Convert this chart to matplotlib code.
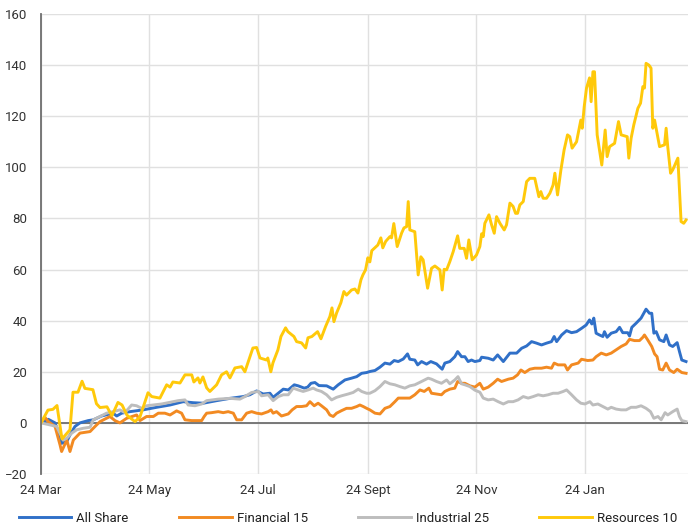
import numpy as np
import pandas as pd
import matplotlib
matplotlib.use("Agg")
import matplotlib.pyplot as plt

plt.rcParams['font.family'] = ['Roboto', 'DejaVu Sans']

START = "2020-03-24"
END = "2021-03-23"

# ---- data (day offsets from START, % change) ----
all_share_days = [0, 4.1, 7.9, 10.7, 11.6, 14.5, 16.3, 19.1, 21.9, 26.6, 29.4, 31.3, 34.1, 38.8, 40.5, 42.6,
                  45.4, 50.1, 57.5, 65.1, 72.6, 80, 85.7, 91.3, 98.8, 106.3, 113.8, 117.5, 121.3, 125, 128.8,
                  130.6, 133.5, 136.3, 139.1, 142.5, 144.7, 148.1, 150, 151.9, 154.1, 156.4, 160.7, 164.4,
                  167.2, 171, 174.7, 177.6, 180.4, 183.2, 185, 187.9, 190.7, 193.5, 196.3, 198.7, 201, 203.8,
                  206.2, 207.5, 210.3, 211.9, 214.1, 216.9, 219.3, 222.5, 225.7, 227.2, 230, 232.8, 234.4,
                  236.6, 238.5, 240.3, 242.2, 244.1, 246.9, 247.9, 251.6, 254.4, 256.9, 260.1, 263.8, 267.6,
                  270.4, 273.2, 276, 278.8, 281.6, 284.4, 287.2, 288.7, 290.1, 292.9, 295.7, 298.5, 301.3,
                  304.1, 306.7, 308.6, 309.9, 311, 312.3, 314.2, 316.1, 317, 318.5, 320.8, 323.6, 325.5,
                  327.3, 330.1, 331.1, 332.4, 334.8, 337.6, 339.1, 340.4, 342.3, 343.6, 344.8, 346.1, 348,
                  350.4, 351.7, 353.6, 355.4, 357.9, 359.2, 360.5, 362.9]
all_share_vals = [0, 1.4, 0, -5.4, -8, -7.3, -4.7, -1.4, 0, 0.9, 1.2, 1.8, 2.7, 3.5, 3.8, 2.7,
                  3.8, 4.4, 5.1, 6.1, 7, 8.3, 7.9, 7.7, 8.7, 9.6, 10.3, 11, 12.5, 11.3, 11.6,
                  10, 11.6, 13.2, 12.9, 14.9, 14.5, 13.6, 14, 15.5, 15.8, 14.6, 14.5, 13.2,
                  14.9, 16.8, 17.5, 18.1, 19.4, 19.7, 20.1, 20.5, 21.8, 23.4, 23, 24.4, 24, 25,
                  27, 24.9, 24.6, 22.7, 24, 23, 24, 23.1, 21, 23.4, 24, 25.9, 27.9,
                  25.9, 25.9, 24, 24.6, 24, 24.4, 25.7, 25.3, 24.6, 26.6, 24, 27.3, 27.3,
                  29.2, 30.1, 31.8, 31.2, 30.5, 31.2, 31.8, 33.8, 31.8, 34.4, 36.1, 35.3, 35.7,
                  37, 38.3, 40.3, 38.7, 41, 35.1, 34.4, 33.8, 35.7, 33.5, 35.1, 35.7, 37.4,
                  35.3, 35.3, 34, 37.4, 39, 41, 42.9, 44.5, 42.9, 42.9, 35.1, 35.7, 32.5,
                  31.8, 34.4, 30.5, 29.9, 31.4, 27.9, 24.6, 24]

financial_days = [0, 2.2, 4.1, 7.9, 10.7, 11.6, 14.5, 16.3, 18.2, 21.9, 27.6, 30.4, 33.2, 38.8, 41.6, 44.4,
                  48.2, 53.8, 55.7, 59.4, 63.2, 66, 69.7, 72.6, 76.3, 79.1, 81, 84.8, 90.4, 91.8, 93.2, 96,
                  99.7, 102.5, 105.3, 108.2, 110.1, 112.9, 115.7, 118.5, 121.3, 124.1, 127.8, 129.4, 130.6,
                  132.5, 135.3, 139.1, 141.3, 143.8, 146.6, 149.4, 151.3, 153.7, 155.9, 157.8, 160.7, 162.5,
                  164.4, 166.3, 169.1, 171.9, 174.7, 177.6, 179.4, 181.3, 183.2, 185, 187.9, 190.7, 193.5,
                  196.3, 199.1, 201, 204.7, 207.5, 210.3, 213.2, 215.6, 218.2, 219.7, 222.5, 225.3, 227.2,
                  230, 232.8, 234.4, 236.6, 238.5, 241.3, 244.1, 246.9, 248.8, 251.6, 254.4, 256.9, 259.1,
                  262.9, 265.6, 268.1, 270, 272.2, 275, 277.8, 281.6, 284.4, 287.2, 288.7, 290.9, 294.7,
                  296.2, 298.5, 302.2, 304.1, 307.6, 310.5, 312.3, 315.2, 318, 320.8, 323.6, 326.4, 329.2,
                  331.1, 333.9, 336.7, 338.6, 339.5, 341.3, 343.6, 345.2, 346.6, 348, 349.8, 351.7, 353.6,
                  356, 357.9, 360.5, 362.9]
financial_vals = [0, 2.2, 0.5, -1.4, -8.6, -11.2, -6.7, -11.2, -6.7, -4, -3.4, -1.4, 0.5, 2.5, 0.9, 0,
                  1.8, 3.1, 0.9, 2.5, 2.5, 3.8, 3.8, 3.1, 4.7, 3.8, 1.2, 0.9, 0.9, 2.5, 3.8, 4,
                  4.4, 4, 4.4, 3.8, 1.2, 1.2, 3.8, 4.4, 3.8, 3.5, 4.4, 5.1, 3.8,
                  4.4, 2.7, 3.5, 5.1, 6.4, 6.4, 6.7, 8.3, 6.7, 7.7, 6.7, 5.1, 3.1,
                  2.5, 3.8, 4.8, 5.7, 5.7, 6.4, 7, 6.4, 5.7, 5.1, 3.8, 3.5, 5.7,
                  6.4, 8.3, 9.7, 9.7, 9.7, 11, 12.9, 12.3, 13.6, 11.6, 11.3, 11, 12.3,
                  13.2, 13.6, 16.2, 15.5, 15.5, 14.5, 14, 15.5, 13.2, 14, 15.5, 17.1, 16.2,
                  17.1, 17.5, 18.8, 20.7, 19.7, 21, 21.4, 21.4, 21.8, 21.4, 23.4, 22.7, 22.7,
                  20.7, 22.7, 23.4, 24.9, 24.4, 24.6, 25.9, 27.3, 26.6, 27.3, 28.6, 29.9, 30.9,
                  32.7, 32.2, 32.2, 33.5, 34.4, 32.5, 29.9, 27, 25.9, 21, 20.7, 23.4, 20.7,
                  19.7, 21, 19.7, 19.4]

industrial_days = [0, 5.1, 8.8, 12.5, 14.5, 17.3, 20.1, 23.8, 27.6, 29.4, 33.2, 36.9, 40.7, 44.4, 47.2, 51,
                   53.8, 56.6, 59.4, 67.9, 77.2, 81, 82.8, 86.6, 90.4, 93.2, 99.7, 106.3, 111.9, 114.7, 118.5,
                   122.2, 124.1, 127.8, 130.6, 133.5, 136.3, 139.1, 141.9, 144.7, 147.5, 150.3, 153.1, 155,
                   157.8, 160.7, 163.5, 166.3, 169.1, 172.8, 175.6, 178.5, 180.4, 183.2, 185, 187.9, 190.7,
                   193.5, 196.3, 199.1, 201.9, 204.7, 207.5, 210.3, 214.1, 217.8, 219.7, 222.5, 225.3, 228.2,
                   230, 232.8, 234.6, 236.6, 238.5, 241.3, 244.1, 246.9, 248.8, 251.6, 254.4, 257.2, 260.1,
                   262.9, 265.6, 268.4, 271.3, 274.1, 276.9, 279.7, 282.5, 285.3, 288.1, 290.9, 293.8, 295.7,
                   298.5, 301.3, 303.7, 306, 308.8, 310.5, 313.3, 316.1, 318.9, 320.8, 323.6, 326.4, 329.2,
                   332, 334.8, 337.6, 340.4, 342.9, 344.8, 347.1, 348.9, 351.1, 352.6, 355.4, 357.9, 359.2,
                   360.5, 362.9]
industrial_vals = [0, -0.8, -1.4, -6.7, -6, -4, -2.7, -2.1, -1.7, 1.2, 2.5, 3.8, 4.4, 5.1, 4, 7,
                   6.7, 5.7, 6.7, 7.4, 8.7, 9, 7, 6.7, 7.4, 8.7, 9.3, 9.6, 9.3, 10.3, 11.9,
                   12.3, 10.6, 11, 8.7, 10.3, 11, 11, 13.6, 12.9, 12.3, 12.9, 13.6, 12.9,
                   12.3, 11, 9, 10, 10.6, 11.3, 11.9, 13.2, 12.3, 11.6, 11.6, 12.6, 14.2,
                   16.2, 15.3, 14.9, 14.2, 13.6, 14.5, 14.9, 16.2, 17.5, 17.1, 16.2, 15.5, 16.8,
                   15.3, 16.8, 18.1, 15.3, 14.9, 14.2, 12.8, 12, 9.7, 9, 9.3, 8.3, 7.4,
                   8.3, 8.3, 9, 10.3, 9.7, 10.3, 11, 10.6, 11, 11.6, 11.6, 12.3, 12.9,
                   11, 9, 7.7, 7.4, 8.3, 7, 7.4, 6.4, 5.4, 6.1, 5.4, 5.1, 5.1,
                   6.1, 6.1, 6.7, 5.7, 4.4, 1.8, 2.5, 1.2, 4, 3.1, 4.4, 5.4, 2.5,
                   0.9, 0.5]

resources_days = [0, 3.9, 6.7, 9.0, 11.8, 16.3, 18, 20.8, 23.1, 24.7, 29.2, 31.2, 33.2, 37.1, 39.9, 43.3,
                  45.6, 48.4, 50.1, 52.9, 55.7, 57.4, 60.2, 62.3, 66.9, 70.7, 72.6, 74.2, 78.2, 81, 84.8,
                  86, 88.3, 89.4, 91.1, 93.2, 95, 98.8, 101.6, 104.4, 106.3, 109.1, 112.9, 114.7, 119.2,
                  121.3, 123.2, 126.9, 127.6, 129.3, 130.5, 133.3, 135, 137.6, 138.9, 142.3, 143.8, 146.6,
                  148.9, 150.2, 152.4, 155.6, 157.5, 160.1, 162.5, 163.7, 164.8, 166.3, 168.7, 170.4, 171.9,
                  174.7, 176.6, 178.3, 180, 181.1, 182.6, 183.9, 185, 186.1, 189.5, 191.2, 192.3, 193.9,
                  196.3, 197.2, 198.5, 200.4, 202.9, 204.2, 205.7, 206.6, 207.5, 210.3, 212.2, 213.7, 215,
                  217.5, 218.8, 219.7, 221.6, 224.4, 225.7, 226.8, 228.2, 230, 231.9, 234.4, 235.6, 238.1,
                  239.4, 240.7, 242.6, 245, 246.9, 247.9, 248.8, 249.7, 252, 253.5, 255, 256.3, 258.2,
                  260.6, 261.9, 263.8, 265.6, 267, 268.1, 269.4, 271.3, 273.2, 275, 277.8, 280.1, 281.2,
                  282.5, 284.4, 286.3, 288.1, 289.1, 290.6, 292.5, 294.3, 296.2, 297.5, 298.8, 301.3, 302.6,
                  303.7, 304.5, 305.6, 306.9, 308.6, 309.5, 310.5, 311.4, 312.9, 315.5, 317.4, 318.5, 319.9,
                  322.7, 324.9, 326.4, 329.8, 330.7, 332, 333.5, 335.8, 337.3, 338.6, 339.5, 340.4, 342,
                  343.2, 344.2, 345.2, 348, 350.8, 351.7, 352.6, 354.2, 355.4, 358.3, 360.1, 361.6, 362.9]
resources_vals = [0, 5, 5.3, 6.8, -6.3, -2.7, 12, 12, 16.3, 13.5, 13, 7.5, 6, 6.3, 2.8, 8,
                  7, 3, 2, 0.5, 2.4, 6, 11.8, 10.3, 9.7, 14.9, 14, 16, 15.6, 18.8, 18.8,
                  16, 17.6, 15.6, 18, 13.7, 12.3, 14.9, 18.8, 20, 17.6, 21.5, 22, 20, 29.3,
                  29.5, 25.4, 24.6, 25.4, 20, 23.5, 28.6, 33.8, 37.2, 35.7, 33.8, 31.8, 31.3,
                  29.3, 33.3, 33.8, 35.7, 32.9, 37.7, 41.6, 45, 39.6, 43, 47, 51.4, 50,
                  52, 52.4, 50.8, 56, 57.9, 59.9, 64.6, 63, 67.4, 69.6, 72.4, 68.5, 71,
                  72.9, 72.4, 78, 69, 74.3, 76.3, 76.8, 86.6, 75.5, 74.8, 57.9, 65, 63.8,
                  52.7, 57.2, 60.5, 61.4, 59.9, 52, 60.1, 59.9, 63.1, 67, 73.2, 68.3, 68.3,
                  64.4, 71.6, 63.8, 65.7, 69, 74, 72.9, 78.1, 81.4, 77.5, 74.2, 80.7, 78.1,
                  75.5, 77.5, 86, 84.7, 82, 82, 85.3, 86.6, 94.4, 95.7, 95.7, 88.5, 90.5,
                  87.9, 87.9, 89.9, 93.1, 97.7, 89.2, 99, 106.8, 112.7, 112, 107.5, 110, 114.6,
                  118.5, 115.3, 123.7, 131, 135, 125.7, 137.4, 137.4, 112.7, 100.9, 114.6, 104.2, 108.1,
                  109.4, 117.9, 112.7, 112, 103.6, 111.4, 116.6, 123.1, 125.1, 131.6, 131, 140.7, 140,
                  138.8, 115.3, 118.5, 108.1, 108.8, 115.3, 108.1, 97.7, 99, 103.6, 78.8, 78.1, 79.4]

series_names = ["All Share", "Financial 15", "Industrial 25", "Resources 10"]
series_colors = ["#3070c8", "#f28a22", "#bdbdbd", "#ffc90a"]

tick_dates = ["2020-03-24", "2020-05-24", "2020-07-24", "2020-09-24", "2020-11-24", "2021-01-24"]
tick_labels = ["24 Mar", "24 May", "24 Jul", "24 Sept", "24 Nov", "24 Jan"]
y_ticks = [-20, 0, 20, 40, 60, 80, 100, 120, 140, 160]

# ---- figure ----
fig = plt.figure(figsize=(6.88, 5.25), dpi=100)
ax = fig.add_axes([41 / 688, 1 - 474 / 525, 1 - 41 / 688, (474 - 14) / 525])

start = pd.Timestamp(START)
def to_dates(days):
    return start + pd.to_timedelta(np.asarray(days, dtype=float), unit="D")

series = [
    (all_share_days, all_share_vals),
    (financial_days, financial_vals),
    (industrial_days, industrial_vals),
    (resources_days, resources_vals),
]

ax.axhline(0, color="#6e6e6e", lw=1.3, zorder=1.5)
handles = []
for (d, v), name, c in zip(series, series_names, series_colors):
    h, = ax.plot(to_dates(d), v, color=c, lw=2.1, label=name, zorder=2,
                 solid_joinstyle="round")
    handles.append(h)

ax.set_xlim(start, pd.Timestamp(END))
ax.set_ylim(-20, 160)
ax.set_yticks(y_ticks)
ax.set_xticks(pd.to_datetime(tick_dates))
ax.set_xticklabels(tick_labels)

ax.grid(True, color="#e0e0e0", lw=1.0)
ax.set_axisbelow(True)
for s in ["top", "right", "bottom"]:
    ax.spines[s].set_visible(False)
ax.spines["left"].set_color("#6e6e6e")
ax.spines["left"].set_linewidth(1.3)
ax.tick_params(axis="both", length=0, labelsize=9.5, labelcolor="#333333")
ax.tick_params(axis="y", pad=10)
ax.tick_params(axis="x", pad=7)

fig.legend(handles=handles, labels=series_names, loc="center",
           bbox_to_anchor=(0.5055, 1 - 518 / 525), ncol=4, frameon=False,
           fontsize=9.5, handlelength=4.0, handletextpad=0.38, columnspacing=3.8,
           borderpad=0, labelcolor="#222222")

fig.savefig("out.png", dpi=100)
